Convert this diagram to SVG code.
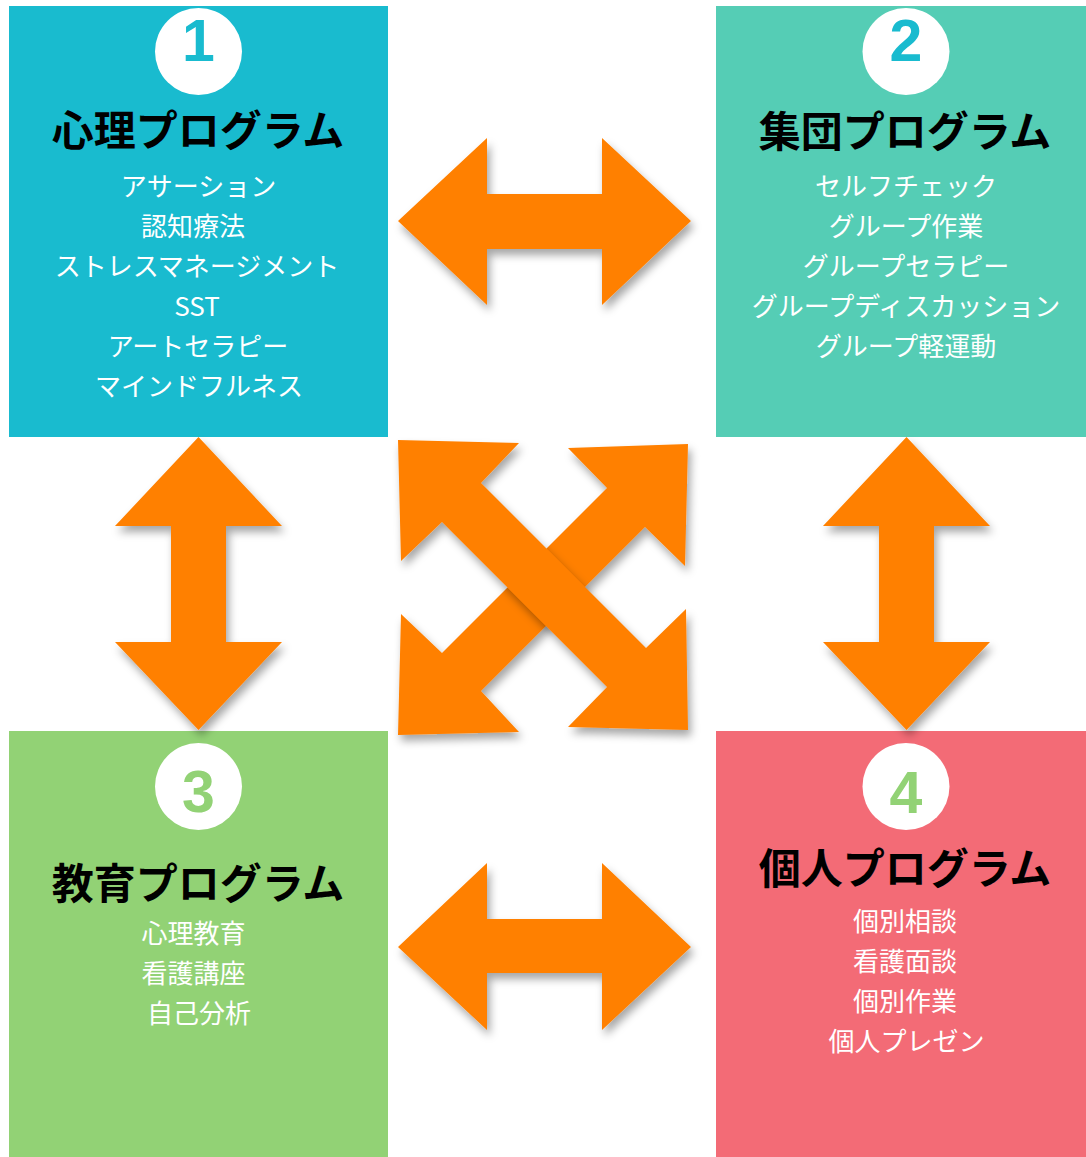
<svg xmlns="http://www.w3.org/2000/svg" width="1086" height="1157" viewBox="0 0 1086 1157">
<defs>
<style>
.title{font-family:"Noto Sans CJK JP","Noto Sans",sans-serif;font-weight:700;font-size:42px;fill:#000;text-anchor:middle}
.item{font-family:"Noto Sans CJK JP","Noto Sans",sans-serif;font-size:26px;fill:#fff;text-anchor:middle}
.num{font-family:"Liberation Sans",Arial,sans-serif;font-weight:700;font-size:59px;text-anchor:middle}
.arrow{fill:#FF8000;filter:url(#sh)}
</style>
<filter id="sh" x="-20%" y="-20%" width="140%" height="140%">
<feDropShadow dx="3" dy="6" stdDeviation="4.5" flood-color="#000" flood-opacity="0.35"/>
</filter>
</defs>
<rect width="1086" height="1157" fill="#fff"/>

<g id="node1">
<rect x="9" y="6" width="379" height="431" fill="#19BBCF"/>
<circle cx="198.5" cy="51.5" r="43.5" fill="#fff"/>
<text class="num" x="198.5" y="61" fill="#19BBCF">1</text>
<text class="title" x="198" y="146">心理プログラム</text>
<text class="item" x="198.5" y="196">アサーション</text>
<text class="item" x="193" y="236">認知療法</text>
<text class="item" x="197" y="276">ストレスマネージメント</text>
<text class="item" x="197" y="316">SST</text>
<text class="item" x="198" y="356">アートセラピー</text>
<text class="item" x="199" y="396">マインドフルネス</text>
</g>

<g id="node2">
<rect x="716" y="6" width="370" height="431" fill="#55CDB5"/>
<circle cx="906" cy="51.5" r="43.5" fill="#fff"/>
<text class="num" x="906" y="61" fill="#19BBCF">2</text>
<text class="title" x="905" y="147">集団プログラム</text>
<text class="item" x="906" y="196">セルフチェック</text>
<text class="item" x="906" y="236">グループ作業</text>
<text class="item" x="906" y="276">グループセラピー</text>
<text class="item" x="906" y="316">グループディスカッション</text>
<text class="item" x="906" y="356">グループ軽運動</text>
</g>

<g id="node3">
<rect x="9" y="731" width="379" height="426" fill="#92D275"/>
<circle cx="198.5" cy="786.5" r="43.5" fill="#fff"/>
<text class="num" x="198.5" y="812" fill="#92D275">3</text>
<text class="title" x="198" y="899">教育プログラム</text>
<text class="item" x="193.5" y="943">心理教育</text>
<text class="item" x="193.5" y="983">看護講座</text>
<text class="item" x="199" y="1023">自己分析</text>
</g>

<g id="node4">
<rect x="716" y="731" width="370" height="426" fill="#F36B76"/>
<circle cx="906" cy="786.5" r="43.5" fill="#fff"/>
<text class="num" x="906" y="813" fill="#92D275">4</text>
<text class="title" x="905" y="884">個人プログラム</text>
<text class="item" x="905" y="931">個別相談</text>
<text class="item" x="905" y="971">看護面談</text>
<text class="item" x="905" y="1011">個別作業</text>
<text class="item" x="906.5" y="1051">個人プレゼン</text>
</g>

<g id="connectors">
<polygon class="arrow" points="398,221 487,138 487,194 602,194 602,138 691,221 602,305 602,249 487,249 487,305"/>
<polygon class="arrow" points="398,947 487,863 487,919 602,919 602,863 691,947 602,1030 602,973 487,973 487,1030"/>
<polygon class="arrow" points="198.5,437 282,526 226,526 226,642 282,642 198.5,730 115,642 171,642 171,526 115,526"/>
<polygon class="arrow" points="906.5,437 990,526 934,526 934,642 990,642 906.5,730 823,642 879,642 879,526 823,526"/>
<polygon class="arrow" points="688,444 685,566 645,527 481,691 519,732 398,735 401,614 442,653 607,488 568,448"/>
<polygon class="arrow" points="398,440 519,443 481,483 646,648 686,609 688,730 568,727 607,687 442,522 401,561"/>
</g>
</svg>
